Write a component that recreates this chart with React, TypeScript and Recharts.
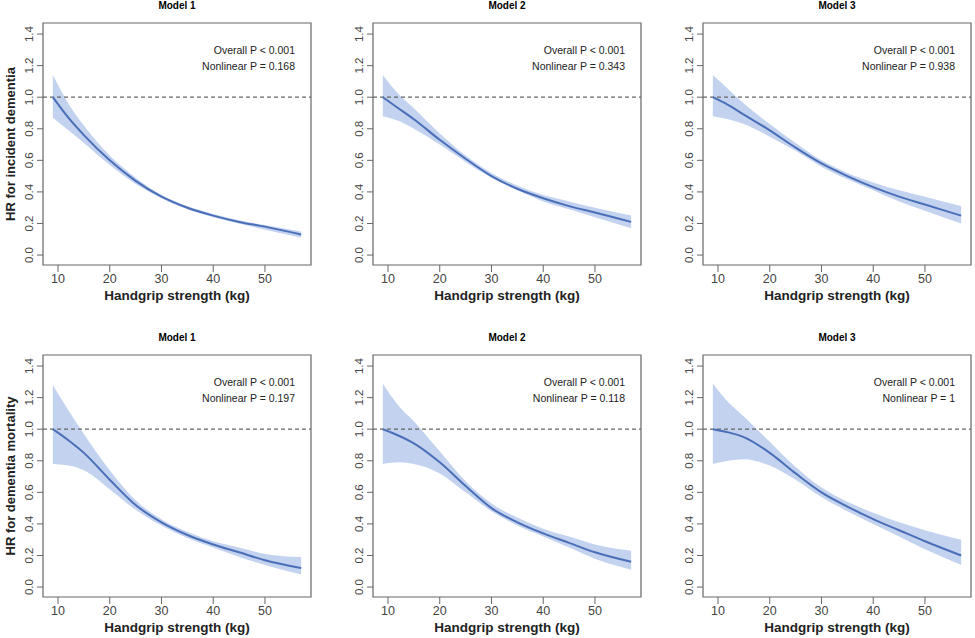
import React from "react";
import {
  ComposedChart,
  Area,
  Line,
  XAxis,
  YAxis,
  ReferenceLine,
  ReferenceArea,
} from "recharts";

const grip = [9, 12, 15, 20, 25, 30, 35, 40, 45, 50, 57];

const dem1Fit = [1.0, 0.87, 0.76, 0.6, 0.47, 0.37, 0.3, 0.25, 0.21, 0.18, 0.13];
const dem1Lo = [0.87, 0.79, 0.71, 0.57, 0.45, 0.36, 0.29, 0.24, 0.2, 0.16, 0.11];
const dem1Hi = [1.14, 0.96, 0.82, 0.63, 0.49, 0.38, 0.31, 0.26, 0.22, 0.19, 0.15];

const dem2Fit = [1.0, 0.93, 0.86, 0.73, 0.61, 0.5, 0.42, 0.36, 0.31, 0.27, 0.21];
const dem2Lo = [0.88, 0.85, 0.8, 0.7, 0.59, 0.49, 0.41, 0.34, 0.29, 0.24, 0.17];
const dem2Hi = [1.14, 1.02, 0.93, 0.77, 0.63, 0.52, 0.44, 0.38, 0.34, 0.3, 0.25];

const dem3Fit = [1.0, 0.95, 0.89, 0.79, 0.68, 0.58, 0.5, 0.43, 0.37, 0.32, 0.25];
const dem3Lo = [0.88, 0.86, 0.83, 0.75, 0.66, 0.56, 0.48, 0.41, 0.34, 0.28, 0.2];
const dem3Hi = [1.14, 1.05, 0.96, 0.83, 0.71, 0.6, 0.52, 0.46, 0.41, 0.37, 0.31];

const mort1Fit = [1.0, 0.93, 0.85, 0.68, 0.52, 0.41, 0.33, 0.27, 0.22, 0.17, 0.12];
const mort1Lo = [0.78, 0.77, 0.74, 0.62, 0.49, 0.39, 0.31, 0.25, 0.19, 0.14, 0.08];
const mort1Hi = [1.28, 1.12, 0.97, 0.74, 0.55, 0.43, 0.35, 0.29, 0.25, 0.21, 0.19];

const mort2Fit = [1.0, 0.96, 0.91, 0.79, 0.64, 0.5, 0.41, 0.34, 0.28, 0.22, 0.16];
const mort2Lo = [0.78, 0.79, 0.78, 0.72, 0.6, 0.48, 0.39, 0.32, 0.25, 0.18, 0.11];
const mort2Hi = [1.29, 1.15, 1.05, 0.86, 0.67, 0.53, 0.44, 0.37, 0.32, 0.27, 0.23];

const mort3Fit = [1.0, 0.98, 0.95, 0.85, 0.72, 0.6, 0.51, 0.43, 0.36, 0.29, 0.2];
const mort3Lo = [0.78, 0.8, 0.81, 0.77, 0.68, 0.57, 0.48, 0.4, 0.32, 0.24, 0.14];
const mort3Hi = [1.29, 1.17, 1.08, 0.92, 0.76, 0.63, 0.54, 0.47, 0.41, 0.36, 0.3];

const xTicks = [10, 20, 30, 40, 50];
const yTicks = [0, 0.2, 0.4, 0.6, 0.8, 1.0, 1.2, 1.4];

const FONT = "'Liberation Sans', Arial, sans-serif";
const X_DOM: [number, number] = [7.1, 58.9];
const Y_DOM: [number, number] = [-0.063, 1.47];

const build = (fit: number[], lo: number[], hi: number[]) =>
  grip.map((g, i) => ({ g, fit: fit[i], band: [lo[i], hi[i]] }));

const YTick = (props: any) => {
  const { x, y, payload } = props;
  return (
    <text
      x={x}
      y={y}
      transform={`rotate(-90 ${x} ${y})`}
      textAnchor="middle"
      dy={-2}
      fontSize={11.5}
      fill="#444"
      fontFamily={FONT}
    >
      {payload.value.toFixed(1)}
    </text>
  );
};

type PanelProps = {
  left: number;
  top: number;
  title: string;
  yLabel: string;
  nonlinear: string;
  fit: number[];
  lo: number[];
  hi: number[];
};

const Panel = ({ left, top, title, yLabel, nonlinear, fit, lo, hi }: PanelProps) => {
  const data = build(fit, lo, hi);
  return (
    <div style={{ position: "absolute", left, top, width: 325, height: 318 }}>
      <ComposedChart
        width={325}
        height={318}
        data={data}
        margin={{ top: 23, right: 14, bottom: 23, left: 0 }}
      >
        <XAxis
          dataKey="g"
          type="number"
          domain={X_DOM}
          ticks={xTicks}
          height={30}
          axisLine={false}
          tickLine={{ stroke: "#666" }}
          tickSize={7}
          tick={{ fontSize: 12.5, fill: "#444", fontFamily: FONT }}
        />
        <YAxis
          type="number"
          domain={Y_DOM}
          ticks={yTicks}
          axisLine={false}
          tickLine={{ stroke: "#666" }}
          tickSize={6}
          tick={<YTick />}
          width={43}
        />
        <ReferenceArea
          x1={X_DOM[0]}
          x2={X_DOM[1]}
          y1={Y_DOM[0]}
          y2={Y_DOM[1]}
          fill="none"
          stroke="#666"
          strokeWidth={1.2}
        />
        <Area
          dataKey="band"
          type="monotone"
          stroke="none"
          fill="#c3d3ef"
          fillOpacity={1}
          isAnimationActive={false}
        />
        <ReferenceLine y={1} stroke="#666" strokeDasharray="4 3" strokeWidth={1.3} />
        <Line
          dataKey="fit"
          type="monotone"
          stroke="#4a6fb8"
          strokeWidth={2}
          dot={false}
          isAnimationActive={false}
        />
      </ComposedChart>
      <div
        style={{
          position: "absolute",
          top: 0,
          left: 43,
          width: 268,
          textAlign: "center",
          fontFamily: FONT,
          fontSize: 10,
          fontWeight: "bold",
        }}
      >
        {title}
      </div>
      <div
        style={{
          position: "absolute",
          top: 42,
          right: 30,
          textAlign: "right",
          fontFamily: FONT,
          fontSize: 10.5,
          color: "#222",
          lineHeight: "16px",
        }}
      >
        <div>Overall P &lt; 0.001</div>
        <div>{nonlinear}</div>
      </div>
      <div
        style={{
          position: "absolute",
          top: 288,
          left: 43,
          width: 268,
          textAlign: "center",
          fontFamily: FONT,
          fontSize: 13.5,
          fontWeight: "bold",
          color: "#222",
        }}
      >
        Handgrip strength (kg)
      </div>
      {yLabel && (
        <div
          style={{
            position: "absolute",
            left: 10,
            top: 144,
            width: 0,
            height: 0,
          }}
        >
          <div
            style={{
              position: "absolute",
              transform: "translate(-50%, -50%) rotate(-90deg)",
              whiteSpace: "nowrap",
              fontFamily: FONT,
              fontSize: 13,
              fontWeight: "bold",
              color: "#222",
            }}
          >
            {yLabel}
          </div>
        </div>
      )}
    </div>
  );
};

export default function App() {
  return (
    <div
      style={{
        position: "absolute",
        left: 0,
        top: 0,
        width: 975,
        height: 638,
        background: "#fff",
      }}
    >
      <Panel left={0} top={0} title="Model 1" yLabel="HR for incident dementia" nonlinear="Nonlinear P = 0.168" fit={dem1Fit} lo={dem1Lo} hi={dem1Hi} />
      <Panel left={330} top={0} title="Model 2" yLabel="" nonlinear="Nonlinear P = 0.343" fit={dem2Fit} lo={dem2Lo} hi={dem2Hi} />
      <Panel left={660} top={0} title="Model 3" yLabel="" nonlinear="Nonlinear P = 0.938" fit={dem3Fit} lo={dem3Lo} hi={dem3Hi} />
      <Panel left={0} top={332} title="Model 1" yLabel="HR for dementia mortality" nonlinear="Nonlinear P = 0.197" fit={mort1Fit} lo={mort1Lo} hi={mort1Hi} />
      <Panel left={330} top={332} title="Model 2" yLabel="" nonlinear="Nonlinear P = 0.118" fit={mort2Fit} lo={mort2Lo} hi={mort2Hi} />
      <Panel left={660} top={332} title="Model 3" yLabel="" nonlinear="Nonlinear P = 1" fit={mort3Fit} lo={mort3Lo} hi={mort3Hi} />
    </div>
  );
}
